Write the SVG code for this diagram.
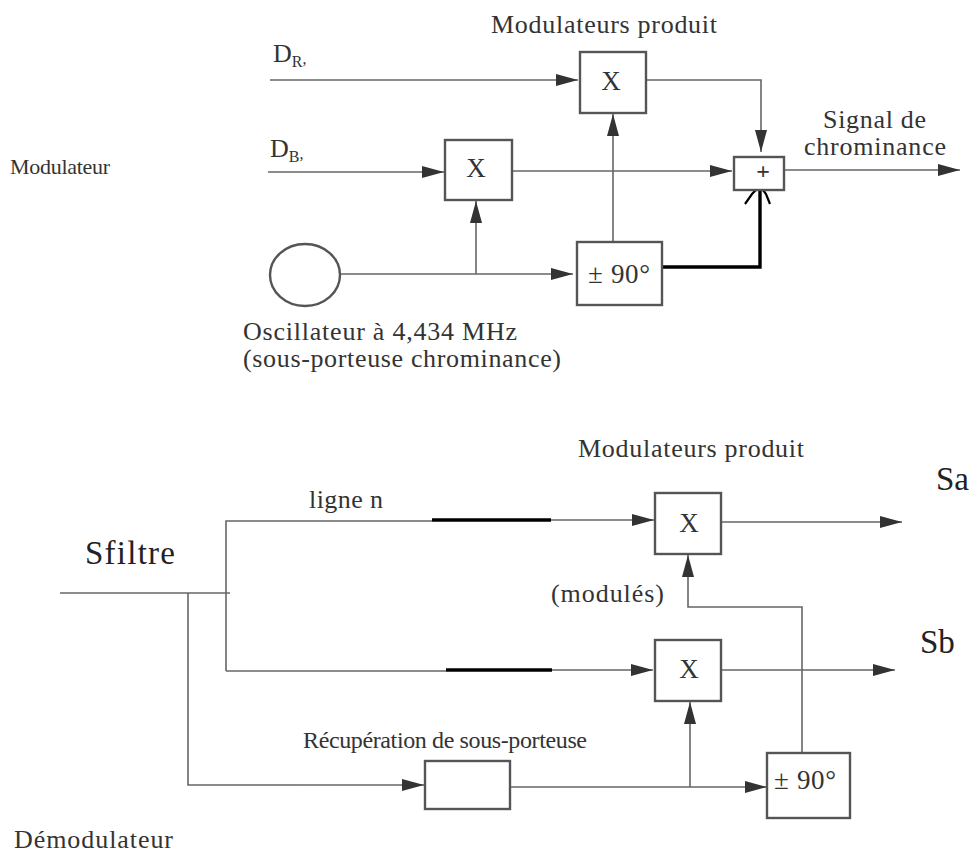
<svg xmlns="http://www.w3.org/2000/svg" width="972" height="854" viewBox="0 0 972 854">
<style>
text{font-family:"Liberation Serif","Times New Roman",serif;fill:#333;font-size:26px}
.b{fill:#fff;stroke:#555;stroke-width:2.4}
.l{fill:none;stroke:#666;stroke-width:1.6}
.t{fill:none;stroke:#000;stroke-width:3.4}
.o{fill:none;stroke:#000;stroke-width:2.2}
.m{font-size:33px;fill:#222}
.x{font-size:27px;text-anchor:middle}
.s{font-size:16px}
</style>
<defs>
<marker id="a" markerUnits="userSpaceOnUse" markerWidth="24" markerHeight="14" refX="22" refY="7" orient="auto"><path d="M0 1 L22 7 L0 13 Z" fill="#333"/></marker>
</defs>
<rect width="972" height="854" fill="#fff"/>
<g id="connectors">
<path class="l" marker-end="url(#a)" d="M270 80H578"/>
<path class="l" marker-end="url(#a)" d="M268 172H444"/>
<path class="l" marker-end="url(#a)" d="M340 274H573"/>
<path class="l" marker-end="url(#a)" d="M476 274V201"/>
<path class="l" marker-end="url(#a)" d="M613 242V114"/>
<path class="l" marker-end="url(#a)" d="M646 80H761V152"/>
<path class="l" marker-end="url(#a)" d="M512 171H732"/>
<path class="l" marker-end="url(#a)" d="M785 170H960"/>
<path class="t" d="M661 267H760V186"/>
<path class="o" d="M745 204L752 194L760 186L766 194L770 204"/>
<path class="l" d="M60 593H230"/>
<path class="l" d="M226 671V521H432"/>
<path class="t" d="M432 520H551"/>
<path class="l" marker-end="url(#a)" d="M551 520H654"/>
<path class="l" d="M226 671H446"/>
<path class="t" d="M446 670H552"/>
<path class="l" marker-end="url(#a)" d="M552 670H653"/>
<path class="l" d="M188 593V785H300"/>
<path class="l" marker-end="url(#a)" d="M300 785H424"/>
<path class="l" marker-end="url(#a)" d="M721 522H902"/>
<path class="l" marker-end="url(#a)" d="M722 670H895"/>
<path class="l" marker-end="url(#a)" d="M510 787H767"/>
<path class="l" marker-end="url(#a)" d="M690 787V702"/>
<path class="l" marker-end="url(#a)" d="M802 753V607H688V555"/>
</g>
<g id="mod-x1"><rect class="b" x="580" y="52" width="66" height="61"/><text class="x" x="611" y="90">X</text></g>
<g id="mod-x2"><rect class="b" x="445" y="140" width="67" height="60"/><text class="x" x="476" y="177">X</text></g>
<g id="mod-phase"><rect class="b" x="577" y="242" width="85" height="63"/><text x="588" y="283" textLength="62" style="font-size:27px">± 90°</text></g>
<g id="mod-sum"><rect class="b" x="734" y="157" width="50" height="33"/><text x="763" y="179" text-anchor="middle" style="font-size:24px;font-weight:bold">+</text></g>
<g id="osc"><ellipse class="b" cx="305" cy="275" rx="35" ry="31"/></g>
<g id="dem-x1"><rect class="b" x="655" y="493" width="66" height="61"/><text class="x" x="689" y="532">X</text></g>
<g id="dem-x2"><rect class="b" x="655" y="640" width="66" height="61"/><text class="x" x="689" y="678">X</text></g>
<g id="dem-phase"><rect class="b" x="767" y="753" width="83" height="65"/><text x="774" y="789" textLength="62" style="font-size:27px">± 90°</text></g>
<g id="dem-rec"><rect class="b" x="425" y="761" width="85" height="48"/></g>
<g id="labels">
<text x="491" y="33" textLength="226">Modulateurs produit</text>
<text x="273" y="62">D<tspan class="s" dy="5">R</tspan><tspan class="s" dy="-3">,</tspan></text>
<text x="270" y="157">D<tspan class="s" dy="5">B</tspan><tspan class="s" dy="-3">,</tspan></text>
<text x="10" y="174" textLength="100" style="font-size:22px">Modulateur</text>
<text x="823" y="128" textLength="103">Signal de</text>
<text x="804" y="155" textLength="142">chrominance</text>
<text x="243" y="340" textLength="274">Oscillateur à 4,434 MHz</text>
<text x="243" y="367" textLength="318">(sous-porteuse chrominance)</text>
<text x="578" y="457" textLength="226">Modulateurs produit</text>
<text x="309" y="508" textLength="74">ligne n</text>
<text class="m" x="85" y="564" textLength="90">Sfiltre</text>
<text class="m" x="936" y="490">Sa</text>
<text class="m" x="920" y="653">Sb</text>
<text x="551" y="602" textLength="113">(modulés)</text>
<text x="303" y="748" textLength="284" style="font-size:24px">Récupération de sous-porteuse</text>
<text x="14" y="848" textLength="159">Démodulateur</text>
</g>
</svg>
